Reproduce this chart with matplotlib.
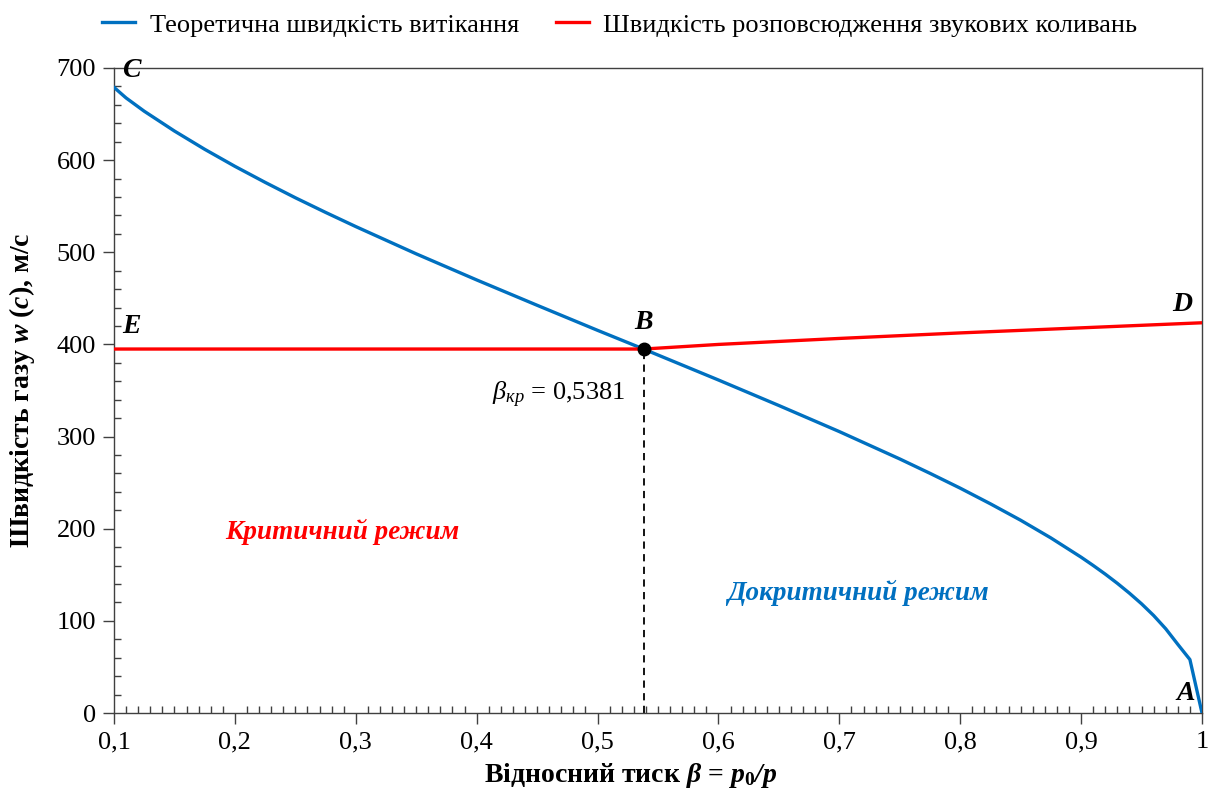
import matplotlib
matplotlib.use("Agg")
import matplotlib.pyplot as plt
from matplotlib.ticker import MultipleLocator, FuncFormatter

plt.rcParams['font.family'] = ['Liberation Serif', 'DejaVu Serif']
plt.rcParams['mathtext.fontset'] = 'custom'
plt.rcParams['mathtext.rm'] = 'Liberation Serif'
plt.rcParams['mathtext.it'] = 'Liberation Serif:italic'
plt.rcParams['mathtext.bf'] = 'Liberation Serif:bold'
plt.rcParams['mathtext.bfit'] = 'Liberation Serif:bold:italic'

# ---- data ----
beta_flow = [0.10, 0.11, 0.125, 0.15, 0.175, 0.20, 0.225, 0.25, 0.275, 0.30, 0.35,
             0.40, 0.45, 0.50, 0.5381, 0.55, 0.60, 0.65, 0.70, 0.75, 0.775, 0.80,
             0.825, 0.85, 0.875, 0.90, 0.91, 0.92, 0.93, 0.94, 0.95, 0.96, 0.97,
             0.98, 0.99, 1.00]
w_flow = [679, 667.5, 653.1, 631.6, 611.8, 593.3, 575.9, 559.2, 543.3, 527.9, 498.3,
          470.0, 442.5, 415.3, 395, 388.5, 361.4, 333.7, 305.4, 275.7, 260.1, 244.0,
          227.0, 209.2, 190.0, 169.1, 160.1, 150.7, 140.7, 130.0, 118.5, 105.8, 91.4,
          74.5, 58, 0]

beta_sound = [0.10, 0.5381, 0.60, 0.70, 0.80, 0.90, 1.00]
c_sound = [395, 395, 400, 406.5, 412.5, 418, 423.5]

beta_cr = 0.5381
w_cr = 395

legend_labels = ["Теоретична швидкість витікання",
                 "Швидкість розповсюдження звукових коливань"]
x_label = r"Відносний тиск $\mathbfit{\beta}$ = $\mathbfit{p}_\mathbf{0}\mathbfit{/p}$"
y_label = r"Швидкість газу $\mathbfit{w}$ ($\mathbfit{c}$), м/с"

BLUE = "#0070C0"
RED = "#FF0000"

fig = plt.figure(figsize=(12.08, 7.91), dpi=100)
ax = fig.add_axes([114/1208, 1-713/791, (1202-114)/1208, (713-68)/791])

l1, = ax.plot(beta_flow, w_flow, color=BLUE, lw=2.4, label=legend_labels[0], zorder=3)
l2, = ax.plot(beta_sound, c_sound, color=RED, lw=2.4, label=legend_labels[1], zorder=3)
ax.plot([beta_cr, beta_cr], [0, w_cr], color="black", lw=1.3, ls=(0, (4, 3)), zorder=2)
ax.plot([beta_cr], [w_cr], 'o', color="black", ms=9, zorder=5)

ax.set_xlim(0.1, 1.0)
ax.set_ylim(0, 700)
ax.xaxis.set_major_locator(MultipleLocator(0.1))
ax.xaxis.set_minor_locator(MultipleLocator(0.01))
ax.yaxis.set_major_locator(MultipleLocator(100))
ax.yaxis.set_minor_locator(MultipleLocator(20))

def xfmt(v, pos):
    s = f"{v:.1f}".replace(".", ",")
    if s == "1,0":
        s = "1"
    return s
ax.xaxis.set_major_formatter(FuncFormatter(xfmt))

for sp in ax.spines.values():
    sp.set_color("#404040")
    sp.set_linewidth(1.0)

ax.tick_params(axis='both', which='major', direction='out', length=8, width=1,
               color="#404040", labelsize=19, pad=5)
ax.tick_params(axis='both', which='minor', direction='in', length=5, width=1,
               color="#404040")

ax.set_xlabel(x_label, fontsize=20, fontweight='bold')
ax.set_ylabel(y_label, fontsize=20, fontweight='bold')
ax.xaxis.set_label_coords((631 - 114) / 1088, -(775 - 713) / 645, transform=ax.transAxes)
ax.yaxis.set_label_coords(-(114 - 22) / 1088, 0.5, transform=ax.transAxes)
ax.xaxis.label.set_va('center')
ax.yaxis.label.set_va('center')

lab = dict(fontsize=20, fontweight='bold', fontstyle='italic', color='black')
ax.text(0.107, 697, "C", ha='left', va='center', **lab)
ax.text(0.107, 419, "E", ha='left', va='center', **lab)
ax.text(beta_cr, 424, "B", ha='center', va='center', **lab)
ax.text(0.992, 443, "D", ha='right', va='center', **lab)
ax.text(0.994, 21, "A", ha='right', va='center', **lab)

ax.text(0.5227, 345, r"$\beta_{кр}$ = 0,5381", ha='right', va='center', fontsize=19)

ax.text(0.289, 196, "Критичний режим", ha='center', va='center', color=RED,
        fontsize=19.5, fontweight='bold', fontstyle='italic')
ax.text(0.715, 130, "Докритичний режим", ha='center', va='center', color=BLUE,
        fontsize=19.5, fontweight='bold', fontstyle='italic')

fig.legend(handles=[l1, l2], loc='center', bbox_to_anchor=(0.513, 1-25/791),
           ncol=2, frameon=False, fontsize=19, handlelength=1.25,
           handletextpad=0.55, columnspacing=1.4)

fig.savefig("out.png", dpi=100)
